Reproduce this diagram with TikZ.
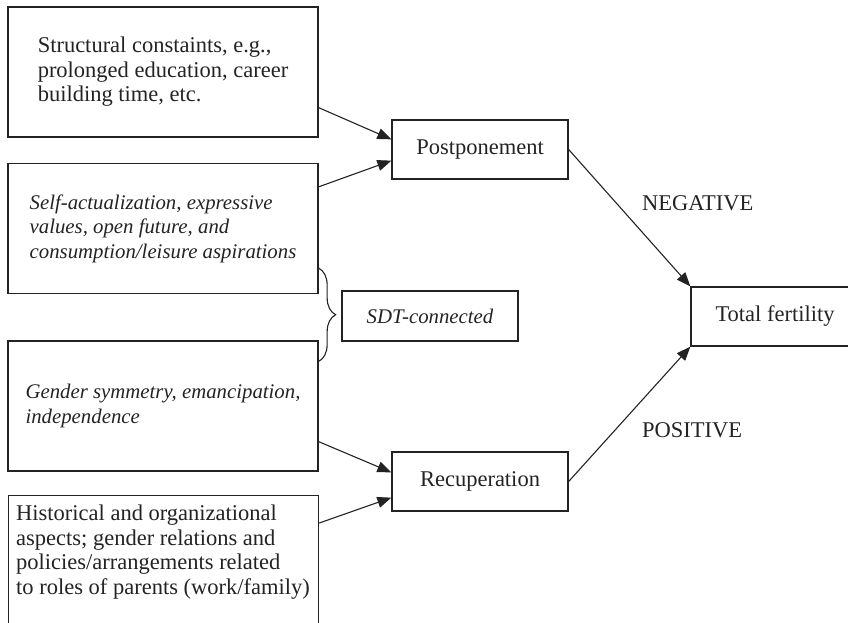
\documentclass[tikz,border=0pt]{standalone}
\usepackage{fontspec}
\setmainfont{Liberation Serif}
\usetikzlibrary{arrows.meta,calc,decorations.pathreplacing}
\definecolor{figK}{RGB}{35,35,35}

\begin{document}
\begin{tikzpicture}[x=1pt,y=-1pt,>={Triangle[length=14pt,width=11pt]},
  txt/.style={font=\fontsize{22.5}{24.5}\selectfont,text=figK},
  itxt/.style={font=\fontsize{20.8}{24.5}\selectfont\itshape,text=figK},
  box/.style={draw=figK,line width=1.3pt,minimum width=310pt,minimum height=130pt,align=left,inner sep=0pt},
  mid/.style={draw=figK,line width=1.3pt,minimum width=176pt,minimum height=59pt,inner sep=0pt},
  link/.style={->,draw=figK,line width=1.1pt}]
\path[use as bounding box,clip] (0,0) rectangle (848,623);
% left column: the four groups of causes
\node[box,txt] (c1) at (163,72) {Structural constaints, e.g.,\\prolonged education, career\\building time, etc.};
\node[box,itxt] (c2) at (163,228.5) {Self-actualization, expressive\\values, open future, and\\consumption/leisure aspirations};
\node[box,itxt] (c3) at (163,406) {Gender symmetry, emancipation,\\independence};
\node[box,minimum height=140pt,anchor=north west] (c4) at (8,495) {};
\node[txt,align=left,inner sep=0pt] (c4t) at (163,552) {Historical and organizational\\aspects; gender relations and\\policies/arrangements related\\to roles of parents (work/family)};
% middle and right
\node[mid,txt] (post) at (480,149.5) {Postponement};
\node[mid,txt] (recu) at (480,481.5) {Recuperation};
\node[mid,itxt,minimum height=50pt] (sdt) at (430,316) {SDT-connected};
\node[mid,txt,minimum width=168pt] (tf) at (775,316.5) {Total fertility};
\node[txt,anchor=west,inner sep=0pt] (neg) at (642,203) {NEGATIVE};
\node[txt,anchor=west,inner sep=0pt] (pos) at (642,430) {POSITIVE};
% arrows
\draw[link] ([yshift=30pt]c1.south east) -- ([yshift=-20pt]post.north west);
\draw[link] ([yshift=-24pt]c2.north east) -- ([yshift=19pt]post.south west);
\draw[link] ([yshift=30pt]c3.south east) -- ([yshift=-21pt]recu.north west);
\draw[link] ([yshift=-28pt]c4.north east) -- ([yshift=14pt]recu.south west);
\draw[link] (post.east) -- (tf.north west);
\draw[link] (recu.east) -- (tf.south west);
% brace
\draw[figK,line width=1.1pt,decorate,decoration={brace,amplitude=17pt}] ([yshift=26pt]c2.south east) -- ([yshift=-21pt]c3.north east);
\end{tikzpicture}
\end{document}
